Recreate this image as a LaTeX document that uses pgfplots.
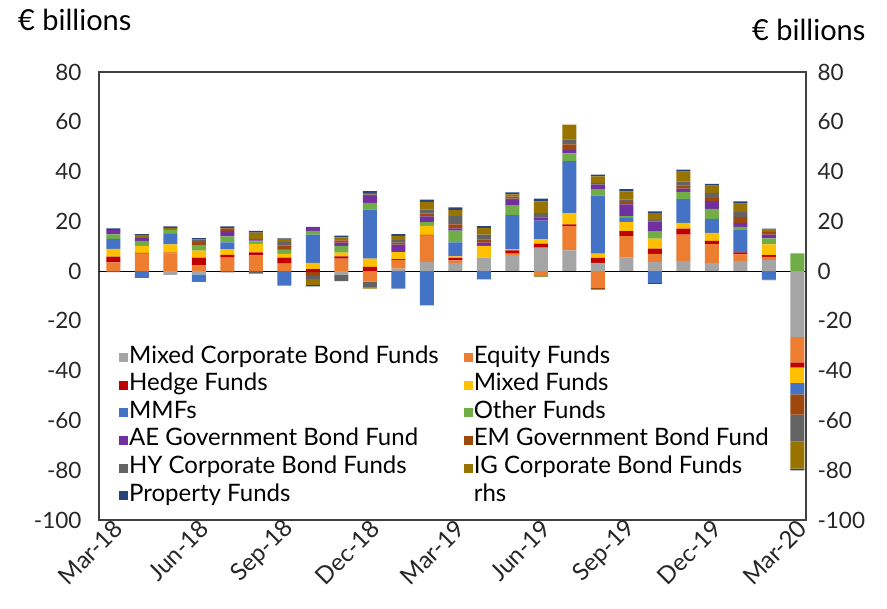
\documentclass[border=0pt]{standalone}
\usepackage{fontspec}
\setmainfont{Lato}
\usepackage{pgfplots}
\usepackage{pgfplotstable}
\pgfplotsset{compat=1.18}
\definecolor{cmcb}{HTML}{A5A5A5}
\definecolor{ceq}{HTML}{ED7D31}
\definecolor{chf}{HTML}{C00000}
\definecolor{cmix}{HTML}{FFC000}
\definecolor{cmmf}{HTML}{4472C4}
\definecolor{coth}{HTML}{70AD47}
\definecolor{cae}{HTML}{7030A0}
\definecolor{cem}{HTML}{9E480E}
\definecolor{chy}{HTML}{636363}
\definecolor{cig}{HTML}{997300}
\definecolor{cprop}{HTML}{264478}

\pgfplotstableread{
x mcb eq hf mix mmf oth ae em hy ig prop
0 0 3.5 2.3 3.1 4.0 1.9 1.7 0 0 0 0.7
1 0 7.0 0.3 2.8 0 2.0 1.3 0 0 1.2 0.3
2 0 7.1 0.3 3.3 4.3 1.6 0 0 0 0.8 0.6
3 0 2.4 3.0 2.8 0 2.2 0 1.3 1.0 0 0.6
4 0 5.4 1.1 2.3 2.7 2.5 2.1 1.1 0 0 0.8
5 0 6.3 1.2 3.4 0 1.0 0.4 0 0.6 2.6 0.7
6 0 3.0 2.4 1.5 0 1.5 0.3 1.6 1.4 1.2 0.3
7 0 0 0.8 2.5 11.4 1.5 1.6 0 0 0 0
8 0 5.0 0.9 1.5 0 2.7 1.3 0.9 0 1.3 0.7
9 0 0 1.7 3.3 19.7 2.7 2.7 0.6 0.7 0 0.7
10 1.0 3.5 0.3 2.8 0 0 3.0 0.8 1.0 1.8 0.7
11 3.6 10.7 0.3 3.6 0 1.5 2.3 1.1 1.6 3.1 0.9
12 3.3 1.0 1.0 0.6 5.6 4.8 0.9 1.6 3.3 2.4 1.1
13 5.4 0 0 4.7 0 0 1.3 1.3 2.0 2.7 0.7
14 6.4 0.6 1.3 0.5 13.7 4.0 2.1 0.6 0.7 0.9 0.8
15 9.4 0 1.6 1.7 7.6 0 1.3 0 1.7 4.7 1.1
16 8.3 9.8 0.7 4.4 21.0 3.1 1.3 2.3 2.0 6.0 0
17 3.3 0 2.0 1.7 23.3 2.4 2.0 0 0.7 2.7 0.7
18 5.4 8.7 2.0 3.6 1.7 0.7 4.7 0.9 1.0 3.3 0.9
19 3.7 3.2 2.1 4.0 0 2.9 4.0 0 0.7 2.7 0.7
20 4.1 10.6 2.4 2.3 9.5 2.9 1.3 1.3 1.6 4.0 0.8
21 3.3 7.5 1.3 3.3 5.6 4.0 3.1 1.2 2.1 2.9 0.7
22 4.0 2.7 0.8 0 9.0 1.3 1.6 2.4 2.0 3.3 0.9
23 4.4 1.3 0.7 4.3 0 2.4 1.6 1.1 0 0.9 0.4
24 0 0 0 0 0 7.1 0 0 0 0 0
}\pos

\pgfplotstableread{
x mcb eq hf mix mmf oth ae em hy ig prop
0 0 0 0 0 0 0 0 0 -0.4 0 0
1 0 0 0 0 -2.7 0 0 0 0 0 0
2 -1.5 0 0 0 0 0 0 0 0 0 0
3 -1.3 0 0 0 -2.6 0 0 0 0 -0.4 0
4 0 0 0 0 0 0 0 0 -0.5 0 0
5 0 0 0 0 0 0 0 0 -1.0 0 0
6 0 0 0 0 -5.8 0 0 0 0 0 0
7 0 0 -0.4 0 0 0 0 -1.5 -1.2 -2.4 -0.6
8 -1.5 0 0 0 0 0 0 0 -2.5 0 0
9 0 -4.2 0 0 0 0 0 0 -2.4 -0.4 0
10 0 0 0 0 -7.0 0 0 0 0 0 0
11 0 0 0 0 -13.8 0 0 0 0 0 0
12 0 0 0 0 0 0 0 0 0 0 0
13 0 0 0 0 -3.3 0 0 0 0 0 0
14 0 0 0 0 0 0 0 0 0 0 0
15 0 -2.0 0 0 0 -0.4 0 0 0 0 0
16 0 0 0 0 0 0 0 0 0 0 0
17 0 -6.7 0 0 0 0 0 -0.7 0 0 0
18 0 0 0 0 0 0 0 0 0 0 0
19 0 0 0 0 -4.8 0 0 0 0 0 -0.3
20 0 0 0 0 0 0 0 0 0 0 0
21 0 0 0 0 0 0 0 0 0 0 0
22 0 0 0 0 0 0 0 0 0 0 0
23 0 0 0 0 -3.4 0 0 0 0 0 -0.2
24 -26.4 -10.3 -2.0 -6.2 -4.6 0 0 -8.2 -10.7 -11.0 -0.7
}\nega

\begin{document}
\begin{tikzpicture}
\useasboundingbox (-99pt,-89pt) rectangle (788pt,520pt);
\pgfplotsset{
  common/.style={
    at={(0pt,0pt)}, anchor=south west,
    scale only axis, width=707pt, height=448pt,
    xmin=-0.5, xmax=24.3, ymin=-100, ymax=80,
    ytick={-100,-80,...,80},
    ybar stacked, bar width=14pt,
    major tick length=0pt,
    tick label style={font=\fontsize{22.5}{22.5}\selectfont, text=black!85},
    /pgf/number format/assume math mode=true,
    every axis plot/.append style={draw=none},
  }
}
\begin{axis}[common,
    axis line style={line width=1.3pt, black!75},
    xtick={0,3,...,24},
    xticklabels={Mar-18,Jun-18,Sep-18,Dec-18,Mar-19,Jun-19,Sep-19,Dec-19,Mar-20},
    xticklabel style={rotate=45, anchor=east, yshift=-7pt, xshift=4pt, font=\fontsize{24}{24}\selectfont},
    yticklabel style={xshift=-14pt},
    legend columns=2,
    legend cell align=left,
    legend image code/.code={\fill[#1] (0pt,-4.5pt) rectangle (9pt,4.5pt);},
    legend style={at={(axis description cs:0.024,0.393)}, anchor=north west,
      draw=none, fill=none, font=\fontsize{24}{24}\selectfont,
      nodes={inner sep=1pt, text height=16pt, text depth=5pt},
      row sep=4.6pt,
      /tikz/every even column/.append style={column sep=24pt}},
]
\addplot[fill=cmcb] table[x=x,y=mcb]{\pos};
\addlegendentry{Mixed Corporate Bond Funds}
\addplot[fill=ceq] table[x=x,y=eq]{\pos};
\addlegendentry{Equity Funds}
\addplot[fill=chf] table[x=x,y=hf]{\pos};
\addlegendentry{Hedge Funds}
\addplot[fill=cmix] table[x=x,y=mix]{\pos};
\addlegendentry{Mixed Funds}
\addplot[fill=cmmf] table[x=x,y=mmf]{\pos};
\addlegendentry{MMFs}
\addplot[fill=coth] table[x=x,y=oth]{\pos};
\addlegendentry{Other Funds}
\addplot[fill=cae] table[x=x,y=ae]{\pos};
\addlegendentry{AE Government Bond Fund}
\addplot[fill=cem] table[x=x,y=em]{\pos};
\addlegendentry{EM Government Bond Fund}
\addplot[fill=chy] table[x=x,y=hy]{\pos};
\addlegendentry{HY Corporate Bond Funds}
\addplot[fill=cig] table[x=x,y=ig]{\pos};
\addlegendentry{IG Corporate Bond Funds}
\addplot[fill=cprop] table[x=x,y=prop]{\pos};
\addlegendentry{Property Funds}
\addlegendimage{empty legend}
\addlegendentry{rhs}
\end{axis}
\begin{axis}[common,
    axis x line=none, axis y line*=right,
    axis line style={line width=1.3pt, black!75},
    yticklabel style={anchor=west, xshift=8pt},
]
\addplot[fill=cmcb] table[x=x,y=mcb]{\nega};
\addplot[fill=ceq] table[x=x,y=eq]{\nega};
\addplot[fill=chf] table[x=x,y=hf]{\nega};
\addplot[fill=cmix] table[x=x,y=mix]{\nega};
\addplot[fill=cmmf] table[x=x,y=mmf]{\nega};
\addplot[fill=coth] table[x=x,y=oth]{\nega};
\addplot[fill=cae] table[x=x,y=ae]{\nega};
\addplot[fill=cem] table[x=x,y=em]{\nega};
\addplot[fill=chy] table[x=x,y=hy]{\nega};
\addplot[fill=cig] table[x=x,y=ig]{\nega};
\addplot[fill=cprop] table[x=x,y=prop]{\nega};
\draw[line width=1.2pt, black] (axis cs:-0.5,0) -- (axis cs:24.3,0);
\end{axis}
\node[anchor=west, inner sep=0pt, font=\fontsize{29}{29}\selectfont] at (-81pt,500pt) {€ billions};
\node[anchor=west, inner sep=0pt, font=\fontsize{29}{29}\selectfont] at (653pt,490pt) {€ billions};
\end{tikzpicture}
\end{document}
